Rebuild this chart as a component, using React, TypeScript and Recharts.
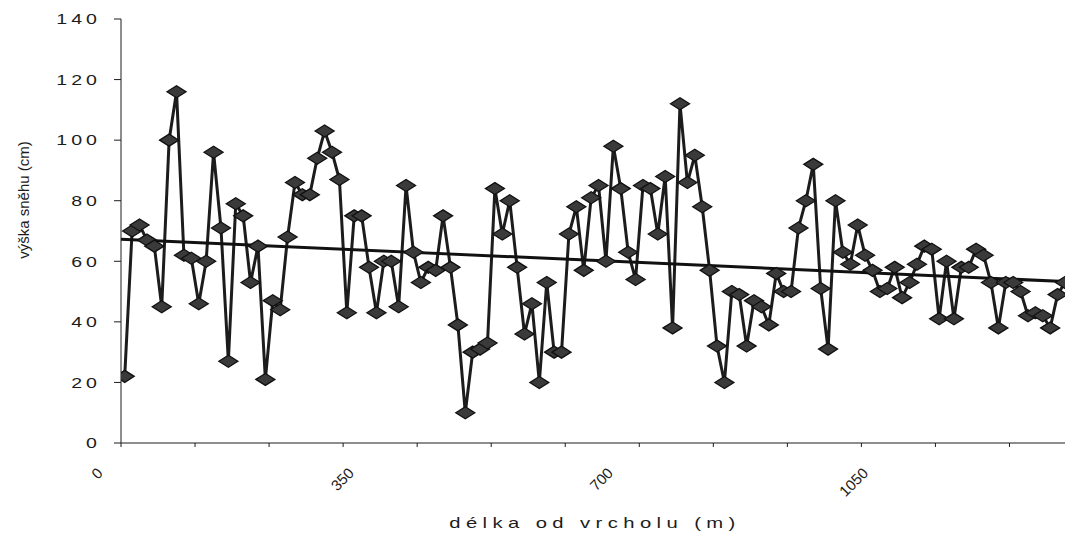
import { LineChart, Line, XAxis, YAxis, ReferenceLine } from 'recharts';

// distance from the summit (m), one sample every 10 m
const DISTANCES = [
  0, 10, 20, 30, 40, 50, 60, 70, 80, 90, 100, 110, 120, 130, 140, 150, 160, 170, 180, 190,
  200, 210, 220, 230, 240, 250, 260, 270, 280, 290, 300, 310, 320, 330, 340, 350, 360, 370, 380, 390,
  400, 410, 420, 430, 440, 450, 460, 470, 480, 490, 500, 510, 520, 530, 540, 550, 560, 570, 580, 590,
  600, 610, 620, 630, 640, 650, 660, 670, 680, 690, 700, 710, 720, 730, 740, 750, 760, 770, 780, 790,
  800, 810, 820, 830, 840, 850, 860, 870, 880, 890, 900, 910, 920, 930, 940, 950, 960, 970, 980, 990,
  1000, 1010, 1020, 1030, 1040, 1050, 1060, 1070, 1080, 1090, 1100, 1110, 1120, 1130, 1140, 1150, 1160, 1170, 1180, 1190,
  1200, 1210, 1220, 1230, 1240, 1250, 1260, 1270,
];

// snow depth (cm)
const SNOW_DEPTH = [
  22, 70, 72, 67, 65, 45, 100, 116, 62, 61, 46, 60, 96, 71, 27, 79, 75, 53, 65, 21,
  47, 44, 68, 86, 82, 82, 94, 103, 96, 87, 43, 75, 75, 58, 43, 60, 60, 45, 85, 63,
  53, 58, 57, 75, 58, 39, 10, 30, 31, 33, 84, 69, 80, 58, 36, 46, 20, 53, 30, 30,
  69, 78, 57, 81, 85, 60, 98, 84, 63, 54, 85, 84, 69, 88, 38, 112, 86, 95, 78, 57,
  32, 20, 50, 49, 32, 47, 45, 39, 56, 50, 50, 71, 80, 92, 51, 31, 80, 63, 59, 72,
  62, 57, 50, 51, 58, 48, 53, 59, 65, 64, 41, 60, 41, 58, 58, 64, 62, 53, 38, 53,
  53, 50, 42, 43, 42, 38, 49, 53,
];

// linear trend, read at the left and right edge of the plot
const TREND_X = [-5, 1270];
const TREND_Y = [67.3, 53.3];

const Y_TICKS = [0, 20, 40, 60, 80, 100, 120, 140];
const X_TICK_MARKS = [-5, 95, 195, 295, 395, 495, 595, 695, 795, 895, 995, 1095, 1195];
const X_TICK_LABELS = [0, 350, 700, 1050];

const FONT = '"Liberation Sans", Arial, Helvetica, sans-serif';
const INK = '#1c1c1c';

const data = DISTANCES.map((d, i) => ({ d, depth: SNOW_DEPTH[i] }));
const xTicks = [...X_TICK_MARKS, ...X_TICK_LABELS].sort((a, b) => a - b);

function Diamond(props: any) {
  const { cx, cy } = props;
  if (cx == null || cy == null) return null;
  return (
    <polygon
      points={`${cx - 9.5},${cy} ${cx},${cy - 6} ${cx + 9.5},${cy} ${cx},${cy + 6}`}
      fill="#3a3a3a"
      stroke="#111"
      strokeWidth={1.3}
    />
  );
}

function XTick(props: any) {
  const { x, y, payload } = props;
  const v = payload.value;
  if (X_TICK_LABELS.includes(v)) {
    // rotated labels end a little left of their category
    const ax = x - 17 - 4 * String(v).length;
    const ay = y + 31;
    return (
      <text
        x={ax}
        y={ay}
        transform={`rotate(-45 ${ax} ${ay})`}
        textAnchor="end"
        fontFamily={FONT}
        fontSize={15}
        fill={INK}
      >
        {v}
      </text>
    );
  }
  return <line x1={x} x2={x} y1={y} y2={y + 4} stroke={INK} strokeWidth={1} />;
}

function YTick(props: any) {
  const { x, y, payload } = props;
  return (
    <g>
      <line x1={x - 7} x2={x} y1={y} y2={y} stroke={INK} strokeWidth={1} />
      <text
        transform={`translate(${x - 20} ${y}) scale(1.35 1)`}
        textAnchor="end"
        dy="0.36em"
        letterSpacing={3}
        fontFamily={FONT}
        fontSize={14.5}
        fill={INK}
      >
        {payload.value}
      </text>
    </g>
  );
}

export default function App() {
  return (
    <div style={{ position: 'absolute', left: 0, top: 0, width: 1065, height: 536, background: '#fff' }}>
      <LineChart width={1065} height={536} data={data} margin={{ top: 19, right: 0, bottom: 0, left: 0 }}>
        <XAxis
          dataKey="d"
          type="number"
          domain={[TREND_X[0], TREND_X[1]]}
          ticks={xTicks}
          interval={0}
          tickLine={false}
          tickSize={0}
          tickMargin={0}
          tick={(p: any) => <XTick {...p} />}
          stroke={INK}
          height={93}
          allowDataOverflow
        />
        <YAxis
          type="number"
          domain={[0, 140]}
          ticks={Y_TICKS}
          interval={0}
          tickLine={false}
          tickSize={0}
          tickMargin={0}
          tick={(p: any) => <YTick {...p} />}
          stroke={INK}
          width={121}
        />
        <Line
          type="linear"
          dataKey="depth"
          stroke={INK}
          strokeWidth={3}
          dot={(p: any) => <Diamond key={`dot-${p.index}`} {...p} />}
          activeDot={false}
          isAnimationActive={false}
        />
        <ReferenceLine
          segment={[
            { x: TREND_X[0], y: TREND_Y[0] },
            { x: TREND_X[1], y: TREND_Y[1] },
          ]}
          stroke="#111"
          strokeWidth={3}
          ifOverflow="visible"
        />
      </LineChart>
      <div
        style={{
          position: 'absolute',
          left: 23,
          top: 200,
          transform: 'translate(-50%, -50%) rotate(-90deg)',
          whiteSpace: 'nowrap',
          fontFamily: FONT,
          fontSize: 15,
          lineHeight: 1,
          color: INK,
        }}
      >
        výška sněhu (cm)
      </div>
      <div
        style={{
          position: 'absolute',
          left: 595,
          top: 522,
          transform: 'translate(-50%, -50%) scaleX(1.35)',
          whiteSpace: 'nowrap',
          fontFamily: FONT,
          fontSize: 15,
          letterSpacing: 4,
          color: INK,
        }}
      >
        délka od vrcholu (m)
      </div>
    </div>
  );
}
